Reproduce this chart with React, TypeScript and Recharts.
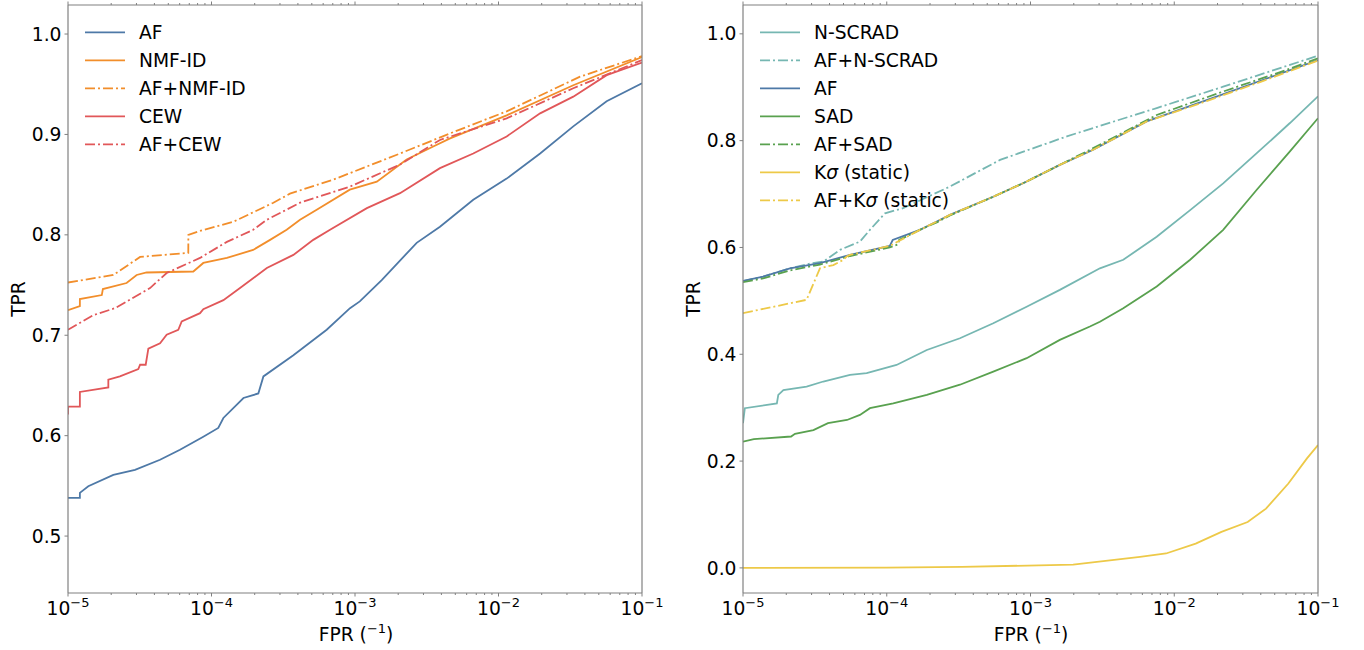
import { LineChart, Line, XAxis, YAxis } from 'recharts'

const FONT = '"DejaVu Sans", sans-serif'
const SPINE = '#808080'
const DASHDOT = '10 3 2 3'

const BLUE = '#4e79a7'
const ORANGE = '#f28e2b'
const RED = '#e15759'
const TEAL = '#76b7b2'
const GREEN = '#59a14f'
const YELLOW = '#edc948'

// axes
const X_DECADES = [-5, -4, -3, -2, -1]
const LEFT_Y_TICKS = [0.5, 0.6, 0.7, 0.8, 0.9, 1.0]
const RIGHT_Y_TICKS = [0.0, 0.2, 0.4, 0.6, 0.8, 1.0]
const LEFT_Y_DOMAIN = [0.4433, 1.0289]
const RIGHT_Y_DOMAIN = [-0.047, 1.054]

type Pt = [number, number] // [fpr, tpr]

// ---- left panel ----
const AF_L: Pt[] = [[1e-5, 0.538], [1.21e-5, 0.538], [1.21e-5, 0.543], [1.385e-5, 0.5496], [2.07e-5, 0.561], [2.93e-5, 0.566], [4.38e-5, 0.576], [6.03e-5, 0.586], [8.77e-5, 0.599], [1.115e-4, 0.6077], [1.21e-4, 0.6176], [1.67e-4, 0.6375], [2.12e-4, 0.642], [2.3e-4, 0.659], [3.72e-4, 0.68], [6.35e-4, 0.7055], [9.23e-4, 0.727], [1.08e-3, 0.7337], [1.535e-3, 0.755], [2.69e-3, 0.792], [3.91e-3, 0.808], [6.67e-3, 0.835], [1.14e-2, 0.856], [1.95e-2, 0.881], [3.32e-2, 0.908], [5.67e-2, 0.933], [0.1, 0.951]]
const NMF_ID: Pt[] = [[1e-5, 0.725], [1.21e-5, 0.729], [1.21e-5, 0.736], [1.72e-5, 0.740], [1.75e-5, 0.746], [2.56e-5, 0.752], [3.01e-5, 0.760], [3.53e-5, 0.7625], [7.47e-5, 0.7635], [8.77e-5, 0.772], [1.28e-4, 0.777], [1.95e-4, 0.785], [2.56e-4, 0.795], [3.34e-4, 0.805], [4.14e-4, 0.815], [5.41e-4, 0.825], [9.2e-4, 0.845], [1.42e-3, 0.853], [2.29e-3, 0.875], [3.51e-3, 0.888], [4.6e-3, 0.896], [1.14e-2, 0.919], [3.32e-2, 0.949], [0.1, 0.977]]
const AF_NMF_ID: Pt[] = [[1e-5, 0.7525], [2.07e-5, 0.760], [3.18e-5, 0.778], [6.89e-5, 0.782], [6.9e-5, 0.800], [8.32e-5, 0.804], [1.42e-4, 0.813], [2.7e-4, 0.832], [3.52e-4, 0.841], [7.06e-4, 0.855], [2.06e-3, 0.881], [4.59e-3, 0.901], [1.14e-2, 0.923], [3.7e-2, 0.9575], [0.1, 0.978]]
const CEW: Pt[] = [[1e-5, 0.621], [1e-5, 0.629], [1.21e-5, 0.629], [1.21e-5, 0.6435], [1.91e-5, 0.648], [1.91e-5, 0.6557], [2.3e-5, 0.659], [3.09e-5, 0.6663], [3.18e-5, 0.6706], [3.48e-5, 0.6706], [3.63e-5, 0.6866], [4.38e-5, 0.692], [4.87e-5, 0.7005], [5.87e-5, 0.7055], [6.2e-5, 0.7137], [8.32e-5, 0.722], [8.77e-5, 0.726], [1.21e-4, 0.735], [1.58e-4, 0.747], [2.43e-4, 0.767], [3.72e-4, 0.780], [5.12e-4, 0.795], [6.7e-4, 0.805], [1.21e-3, 0.8266], [2.06e-3, 0.8415], [3.91e-3, 0.8664], [6.67e-3, 0.881], [1.14e-2, 0.898], [1.95e-2, 0.921], [3.32e-2, 0.9376], [5.67e-2, 0.959], [0.1, 0.9715]]
const AF_CEW: Pt[] = [[1e-5, 0.7055], [1.5e-5, 0.720], [2.13e-5, 0.727], [3.73e-5, 0.747], [4.87e-5, 0.762], [8.32e-5, 0.777], [1.28e-4, 0.793], [1.95e-4, 0.805], [2.43e-4, 0.815], [4.14e-4, 0.832], [9.2e-4, 0.848], [2.06e-3, 0.870], [3.91e-3, 0.8945], [1.14e-2, 0.916], [3.32e-2, 0.946], [0.1, 0.974]]

// ---- right panel ----
const N_SCRAD: Pt[] = [[1e-5, 0.271], [1.03e-5, 0.299], [1.72e-5, 0.308], [1.76e-5, 0.324], [1.91e-5, 0.333], [2.77e-5, 0.3395], [3.62e-5, 0.349], [5.55e-5, 0.3614], [7.25e-5, 0.3646], [1.17e-4, 0.380], [1.9e-4, 0.408], [3.23e-4, 0.430], [5.51e-4, 0.458], [9.4e-4, 0.489], [1.6e-3, 0.5206], [3.04e-3, 0.561], [4.42e-3, 0.577], [7.55e-3, 0.620], [1.29e-2, 0.670], [2.19e-2, 0.720], [3.75e-2, 0.7765], [6.38e-2, 0.833], [0.1, 0.883]]
const AF_N_SCRAD: Pt[] = [[1e-5, 0.537], [1.38e-5, 0.5455], [2.12e-5, 0.561], [3.0e-5, 0.5706], [3.62e-5, 0.5736], [4.73e-5, 0.5955], [6.51e-5, 0.611], [7.64e-5, 0.633], [9.73e-5, 0.664], [1.3e-4, 0.6736], [2.75e-4, 0.714], [6.14e-4, 0.764], [1.05e-3, 0.786], [1.79e-3, 0.808], [3.04e-3, 0.8277], [7.55e-3, 0.861], [2.19e-2, 0.901], [6.38e-2, 0.942], [0.1, 0.959]]
const AF_R: Pt[] = [[1e-5, 0.5375], [1.38e-5, 0.5455], [2.12e-5, 0.561], [3.43e-5, 0.5706], [5.55e-5, 0.586], [1.05e-4, 0.603], [1.1e-4, 0.614], [1.7e-4, 0.633], [2.23e-4, 0.6485], [2.75e-4, 0.661], [5.51e-4, 0.695], [9.4e-4, 0.7234], [1.6e-3, 0.7547], [2.73e-3, 0.783], [6.43e-3, 0.836], [1.68e-2, 0.876], [4.17e-2, 0.914], [0.1, 0.951]]
const SAD: Pt[] = [[1e-5, 0.2365], [1.19e-5, 0.241], [2.16e-5, 0.246], [2.3e-5, 0.251], [3.09e-5, 0.258], [3.9e-5, 0.271], [5.29e-5, 0.277], [6.51e-5, 0.2865], [7.64e-5, 0.299], [1.11e-4, 0.308], [1.9e-4, 0.324], [3.23e-4, 0.343], [5.51e-4, 0.3676], [9.4e-4, 0.3927], [1.6e-3, 0.427], [2.59e-3, 0.452], [3.04e-3, 0.461], [4.42e-3, 0.486], [7.55e-3, 0.527], [1.29e-2, 0.577], [2.19e-2, 0.633], [3.75e-2, 0.708], [6.38e-2, 0.780], [0.1, 0.842]]
const AF_SAD: Pt[] = [[1e-5, 0.535], [1.38e-5, 0.542], [2.12e-5, 0.557], [3.43e-5, 0.568], [5.55e-5, 0.584], [1.05e-4, 0.600], [1.2e-4, 0.606], [1.22e-4, 0.614], [1.7e-4, 0.633], [2.23e-4, 0.647], [2.75e-4, 0.660], [5.51e-4, 0.695], [9.4e-4, 0.7234], [1.6e-3, 0.7547], [2.73e-3, 0.786], [7.55e-3, 0.848], [2.19e-2, 0.892], [5.16e-2, 0.926], [0.1, 0.954]]
const K_SIGMA: Pt[] = [[1e-5, 0.0], [1e-4, 0.0005], [3.34e-4, 0.002], [1.98e-3, 0.006], [5.78e-3, 0.0206], [8.77e-3, 0.027], [1.41e-2, 0.0456], [2.13e-2, 0.0675], [3.24e-2, 0.086], [4.35e-2, 0.111], [6.22e-2, 0.158], [8.38e-2, 0.205], [0.1, 0.23]]
const AF_K_SIGMA: Pt[] = [[1e-5, 0.477], [2.77e-5, 0.502], [3.43e-5, 0.561], [4.25e-5, 0.567], [5.0e-5, 0.577], [5.26e-5, 0.583], [5.55e-5, 0.586], [1.05e-4, 0.603], [1.7e-4, 0.633], [2.23e-4, 0.6485], [2.75e-4, 0.661], [5.51e-4, 0.695], [9.4e-4, 0.7234], [1.6e-3, 0.7547], [2.73e-3, 0.783], [6.43e-3, 0.836], [1.68e-2, 0.874], [4.17e-2, 0.912], [0.1, 0.950]]

interface Series { name: string; sigma?: boolean; prefix?: string; color: string; dash: boolean; pts: Pt[] }

const LEFT_SERIES: Series[] = [
  { name: 'AF', color: BLUE, dash: false, pts: AF_L },
  { name: 'NMF-ID', color: ORANGE, dash: false, pts: NMF_ID },
  { name: 'AF+NMF-ID', color: ORANGE, dash: true, pts: AF_NMF_ID },
  { name: 'CEW', color: RED, dash: false, pts: CEW },
  { name: 'AF+CEW', color: RED, dash: true, pts: AF_CEW },
]

const RIGHT_SERIES: Series[] = [
  { name: 'N-SCRAD', color: TEAL, dash: false, pts: N_SCRAD },
  { name: 'AF+N-SCRAD', color: TEAL, dash: true, pts: AF_N_SCRAD },
  { name: 'AF', color: BLUE, dash: false, pts: AF_R },
  { name: 'SAD', color: GREEN, dash: false, pts: SAD },
  { name: 'AF+SAD', color: GREEN, dash: true, pts: AF_SAD },
  { name: ' (static)', prefix: 'K', sigma: true, color: YELLOW, dash: false, pts: K_SIGMA },
  { name: ' (static)', prefix: 'AF+K', sigma: true, color: YELLOW, dash: true, pts: AF_K_SIGMA },
]

const X_TICKS: number[] = []
X_DECADES.forEach((e, i) => {
  X_TICKS.push(Math.pow(10, e))
  if (i < X_DECADES.length - 1) for (let m = 2; m < 10; m++) X_TICKS.push(m * Math.pow(10, e))
})

function XTick({ x, y, payload, top }: any) {
  const v = payload.value
  const e = Math.log10(v)
  const major = Math.abs(e - Math.round(e)) < 1e-6
  const len = major ? 3.5 : 2
  if (top) return <line x1={x} x2={x} y1={y} y2={y - len} stroke={SPINE} strokeWidth={1} />
  return (
    <g>
      <line x1={x} x2={x} y1={y} y2={y + len} stroke={SPINE} strokeWidth={1} />
      {major && (
        <text x={x} y={y + 22} textAnchor="middle" fontSize={18.7} fontFamily={FONT} fill="#000">
          10<tspan dy={-8} fontSize={13}>{'\u2212' + Math.abs(Math.round(e))}</tspan>
        </text>
      )}
    </g>
  )
}

function Panel({ width, right, series, yDomain, yTicks }: { width: number; right: number; series: Series[]; yDomain: number[]; yTicks: number[] }) {
  const axisLine = { stroke: SPINE, strokeWidth: 1.2 }
  const ref = series[0].pts.map(([fpr, tpr]) => ({ fpr, tpr }))
  return (
    <LineChart width={width} height={650} margin={{ top: 4, right: right - 1, bottom: 0, left: 0 }}>
      <XAxis xAxisId="b" type="number" dataKey="fpr" scale="log" domain={[1e-5, 0.1]} allowDataOverflow
        ticks={X_TICKS} interval={0} height={57} tickSize={0} tickMargin={0} tickLine={false}
        axisLine={axisLine} tick={(p: any) => <XTick {...p} />} />
      <XAxis xAxisId="t" orientation="top" type="number" dataKey="fpr" scale="log" domain={[1e-5, 0.1]} allowDataOverflow
        ticks={X_TICKS} interval={0} height={1} tickSize={0} tickMargin={0} tickLine={false}
        axisLine={axisLine} tick={(p: any) => <XTick {...p} top />} />
      <YAxis yAxisId="l" type="number" domain={yDomain} allowDataOverflow ticks={yTicks} interval={0}
        width={68} tickSize={3.5} tickMargin={3} tickLine={{ stroke: SPINE }} axisLine={axisLine}
        tickFormatter={(v: number) => v.toFixed(1)}
        tick={{ fontSize: 18.7, fill: '#000', fontFamily: FONT }} />
      <YAxis yAxisId="r" orientation="right" type="number" domain={yDomain} allowDataOverflow ticks={yTicks} interval={0}
        width={1} tickSize={3.5} tickLine={{ stroke: SPINE }} axisLine={axisLine} tick={false} />
      {/* invisible series so the mirrored top/right axes get drawn */}
      <Line xAxisId="t" yAxisId="r" data={ref} dataKey="tpr" stroke="none" dot={false} activeDot={false} isAnimationActive={false} />
      {series.map((s, i) => (
        <Line key={i} xAxisId="b" yAxisId="l" data={s.pts.map(([fpr, tpr]) => ({ fpr, tpr }))} dataKey="tpr"
          type="linear" stroke={s.color} strokeWidth={1.8} strokeDasharray={s.dash ? DASHDOT : undefined}
          dot={false} activeDot={false} isAnimationActive={false} />
      ))}
    </LineChart>
  )
}

function Legend({ x, series }: { x: number; series: Series[] }) {
  return (
    <g>
      {series.map((s, i) => {
        const y = 32.3 + i * 28
        return (
          <g key={i}>
            <line x1={x} x2={x + 40} y1={y} y2={y} stroke={s.color} strokeWidth={1.8} strokeDasharray={s.dash ? DASHDOT : undefined} />
            <text x={x + 54} y={y + 6.8} fontSize={18.7} fontFamily={FONT} fill="#000">
              {s.sigma ? (<>{s.prefix}<tspan fontStyle="italic">σ</tspan>{s.name}</>) : s.name}
            </text>
          </g>
        )
      })}
    </g>
  )
}

function XLabel({ cx }: { cx: number }) {
  return (
    <text x={cx} y={641} textAnchor="middle" fontSize={18.7} fontFamily={FONT} fill="#000">
      FPR (<tspan dy={-8} fontSize={13}>{'\u22121'}</tspan><tspan dy={8}>)</tspan>
    </text>
  )
}

function YLabel({ cx }: { cx: number }) {
  return (
    <text x={cx} y={299} transform={`rotate(-90 ${cx} 299)`} textAnchor="middle" dy={6.8} fontSize={18.7} fontFamily={FONT} fill="#000">
      TPR
    </text>
  )
}

export default function App() {
  return (
    <div style={{ position: 'absolute', left: 0, top: 0, width: 1364, height: 650, background: '#fff' }}>
      <div style={{ position: 'absolute', left: 0, top: 0 }}>
        <Panel width={690} right={48} series={LEFT_SERIES} yDomain={LEFT_Y_DOMAIN} yTicks={LEFT_Y_TICKS} />
      </div>
      <div style={{ position: 'absolute', left: 675, top: 0 }}>
        <Panel width={689} right={46} series={RIGHT_SERIES} yDomain={RIGHT_Y_DOMAIN} yTicks={RIGHT_Y_TICKS} />
      </div>
      <svg width={1364} height={650} style={{ position: 'absolute', left: 0, top: 0, pointerEvents: 'none' }}>
        <Legend x={85} series={LEFT_SERIES} />
        <Legend x={760} series={RIGHT_SERIES} />
        <XLabel cx={356} />
        <XLabel cx={1031} />
        <YLabel cx={18} />
        <YLabel cx={693} />
      </svg>
    </div>
  )
}
